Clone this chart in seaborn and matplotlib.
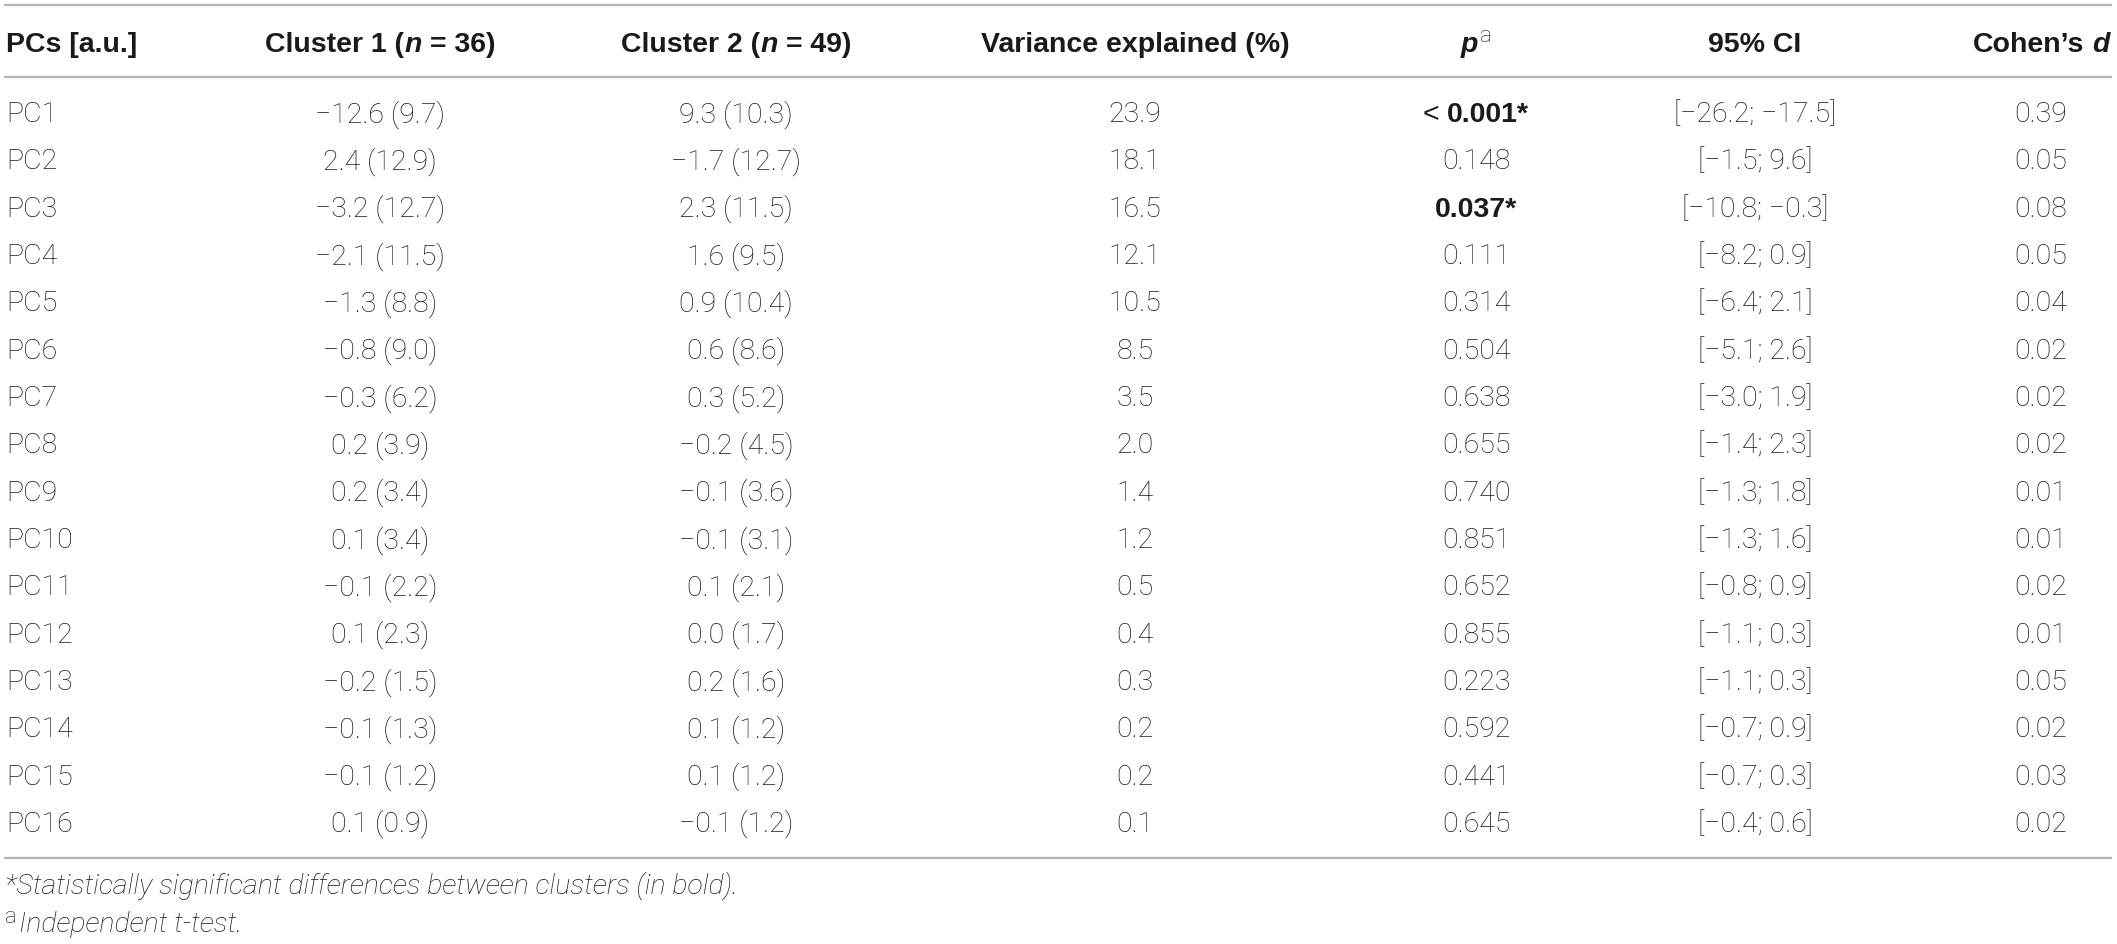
import matplotlib
matplotlib.use("Agg")
import matplotlib.pyplot as plt
from matplotlib.font_manager import FontProperties
import seaborn as sns

# ---------------- data ----------------
components = ["PC1", "PC2", "PC3", "PC4", "PC5", "PC6", "PC7", "PC8",
              "PC9", "PC10", "PC11", "PC12", "PC13", "PC14", "PC15", "PC16"]
cluster1_mean = [-12.6, 2.4, -3.2, -2.1, -1.3, -0.8, -0.3, 0.2, 0.2, 0.1, -0.1, 0.1, -0.2, -0.1, -0.1, 0.1]
cluster1_sd = [9.7, 12.9, 12.7, 11.5, 8.8, 9.0, 6.2, 3.9, 3.4, 3.4, 2.2, 2.3, 1.5, 1.3, 1.2, 0.9]
cluster2_mean = [9.3, -1.7, 2.3, 1.6, 0.9, 0.6, 0.3, -0.2, -0.1, -0.1, 0.1, 0.0, 0.2, 0.1, 0.1, -0.1]
cluster2_sd = [10.3, 12.7, 11.5, 9.5, 10.4, 8.6, 5.2, 4.5, 3.6, 3.1, 2.1, 1.7, 1.6, 1.2, 1.2, 1.2]
variance_explained = [23.9, 18.1, 16.5, 12.1, 10.5, 8.5, 3.5, 2.0, 1.4, 1.2, 0.5, 0.4, 0.3, 0.2, 0.2, 0.1]
p_values = [0.001, 0.148, 0.037, 0.111, 0.314, 0.504, 0.638, 0.655, 0.740, 0.851, 0.652, 0.855, 0.223, 0.592, 0.441, 0.645]
p_below = [True] + [False] * 15          # PC1 is reported as "< 0.001"
ci_low = [-26.2, -1.5, -10.8, -8.2, -6.4, -5.1, -3.0, -1.4, -1.3, -1.3, -0.8, -1.1, -1.1, -0.7, -0.7, -0.4]
ci_high = [-17.5, 9.6, -0.3, 0.9, 2.1, 2.6, 1.9, 2.3, 1.8, 1.6, 0.9, 0.3, 0.3, 0.9, 0.3, 0.6]
cohens_d = [0.39, 0.05, 0.08, 0.05, 0.04, 0.02, 0.02, 0.02, 0.01, 0.01, 0.02, 0.01, 0.05, 0.02, 0.03, 0.02]
alpha = 0.05
footnote_1 = "*Statistically significant differences between clusters (in bold)."
footnote_2 = "Independent t-test."

# ---------------- style ----------------
sns.set_theme(style="white")
plt.rcParams["font.family"] = ["Roboto", "DejaVu Sans"]
plt.rcParams["axes.unicode_minus"] = True

W, H, DPI = 2117, 944, 100
FS = 20.5
EM = FS * DPI / 72.0
INK = "#1a1a1a"
RULE = "#b5b5b5"

L = FontProperties(family=["Roboto", "DejaVu Sans"], weight="light", size=FS)
LI = FontProperties(family=["Roboto", "DejaVu Sans"], weight="light", style="italic", size=FS)
LS = FontProperties(family=["Roboto", "DejaVu Sans"], weight="light", size=FS * 0.78)
LT = FontProperties(family=["Liberation Sans", "DejaVu Sans"], weight="normal", size=FS)
B = FontProperties(family=["Liberation Sans", "DejaVu Sans"], weight="bold", size=FS)
BI = FontProperties(family=["Liberation Sans", "DejaVu Sans"], weight="bold", style="italic", size=FS)

fig = plt.figure(figsize=(W / DPI, H / DPI), dpi=DPI)
fig.patch.set_facecolor("white")
ax = fig.add_axes([0, 0, 1, 1])
Y_TOP, Y_BOT = -2.366, 17.58
ax.set_xlim(0, W)
ax.set_ylim(Y_BOT, Y_TOP)
ax.set_axis_off()
sns.despine(ax=ax, left=True, bottom=True)
PX_PER_ROW = H / (Y_BOT - Y_TOP)

renderer = fig.canvas.get_renderer()
SPACE = 0.278 * EM
CAP = 0.716 * EM


def rich(x, y, parts, ha="center"):
    """parts: list of (text, fontprops, rise_px, gap_px)."""
    arts, total = [], 0.0
    for s, fp, rise, gap in parts:
        t = ax.text(0, 0, s, fontproperties=fp, color=INK, ha="left", va="baseline")
        w = t.get_window_extent(renderer=renderer).width
        arts.append((t, w, rise, gap))
        total += gap + w
    x0 = x - total / 2 if ha == "center" else x
    base = y + (CAP / 2) / PX_PER_ROW
    cx = x0
    for t, w, rise, gap in arts:
        cx += gap
        t.set_position((cx, base - rise / PX_PER_ROW))
        cx += w


def num(v):
    s = f"{abs(v):.1f}"
    return ("\u2212" + s) if v < 0 else s


# column layout (pixels)
X_PC, X_C1, X_C2, X_VAR, X_P, X_CI, X_D = 6, 380, 736, 1135, 1476, 1755, 2041
Y_RULE_TOP, Y_HEAD, Y_RULE_HEAD, Y_RULE_BOT, Y_FN1, Y_FN2 = -2.26, -1.48, -0.74, 15.76, 16.31, 17.11

ax.hlines([Y_RULE_TOP, Y_RULE_HEAD, Y_RULE_BOT], 4, 2112, colors=RULE, linewidth=1.6)

# header
rich(X_PC, Y_HEAD, [("PCs [a.u.]", B, 0, 0)], ha="left")
rich(X_C1, Y_HEAD, [("Cluster 1 (", B, 0, 0), ("n", BI, 0, 1), ("= 36)", B, 0, SPACE)])
rich(X_C2, Y_HEAD, [("Cluster 2 (", B, 0, 0), ("n", BI, 0, 1), ("= 49)", B, 0, SPACE)])
rich(X_VAR, Y_HEAD, [("Variance explained (%)", B, 0, 0)])
rich(X_P, Y_HEAD, [("p", BI, 0, 0), ("a", LS, 0.36 * EM, 2)])
rich(X_CI, Y_HEAD, [("95% CI", B, 0, 0)])
rich(X_D, Y_HEAD, [("Cohen\u2019s", B, 0, 0), ("d", BI, 0, SPACE)])

# body
for i, name in enumerate(components):
    rich(X_PC, i, [(name, L, 0, 0)], ha="left")
    rich(X_C1, i, [(f"{num(cluster1_mean[i])} ({cluster1_sd[i]:.1f})", L, 0, 0)])
    rich(X_C2, i, [(f"{num(cluster2_mean[i])} ({cluster2_sd[i]:.1f})", L, 0, 0)])
    rich(X_VAR, i, [(f"{variance_explained[i]:.1f}", L, 0, 0)])
    sig = p_values[i] < alpha or p_below[i]
    ptxt = f"{p_values[i]:.3f}" + ("*" if sig else "")
    pfont = B if sig else L
    if p_below[i]:
        rich(X_P, i, [("<", LT, 0, 0), (ptxt, pfont, 0, SPACE)])
    else:
        rich(X_P, i, [(ptxt, pfont, 0, 0)])
    rich(X_CI, i, [(f"[{num(ci_low[i])}; {num(ci_high[i])}]", L, 0, 0)])
    rich(X_D, i, [(f"{cohens_d[i]:.2f}", L, 0, 0)])

# footnotes
rich(5, Y_FN1, [(footnote_1, LI, 0, 0)], ha="left")
rich(5, Y_FN2, [("a", LS, 0.30 * EM, 0), (footnote_2, LI, 0, 2)], ha="left")

fig.savefig("out.png", dpi=DPI, facecolor="white")
